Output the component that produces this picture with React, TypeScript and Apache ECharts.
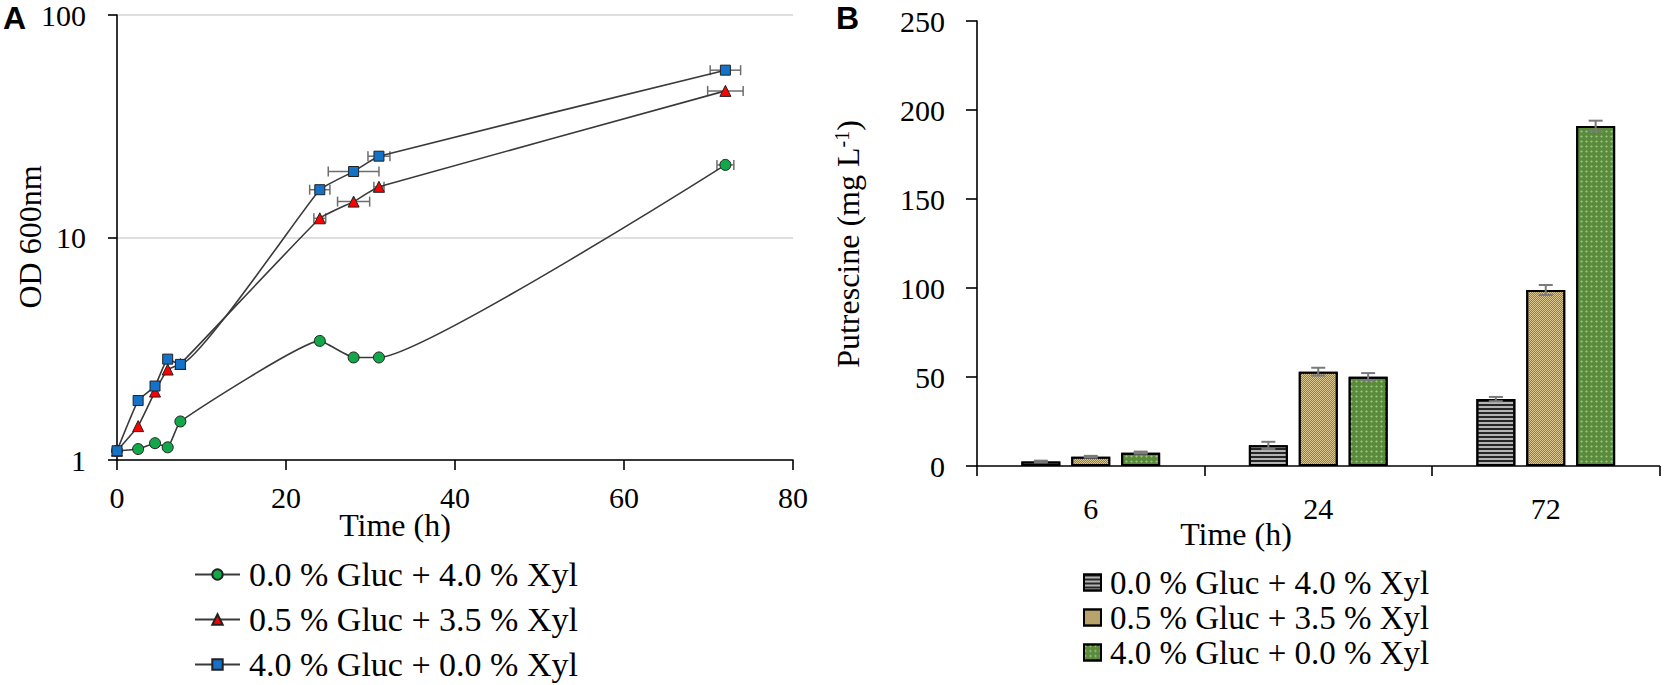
import React, { useEffect, useRef } from "react";
import * as echarts from "echarts";

const SERIF = '"Liberation Serif", "Times New Roman", serif';
const SANS = '"Liberation Sans", Arial, sans-serif';

const legendNames = [
  "0.0 % Gluc + 4.0 % Xyl",
  "0.5 % Gluc + 3.5 % Xyl",
  "4.0 % Gluc + 0.0 % Xyl",
];

// Panel A: OD600 vs time (log scale)
const timeA = [0, 2.5, 4.5, 6, 7.5, 24, 28, 31, 72];
const odGreen = [1.1, 1.12, 1.19, 1.14, 1.49, 3.43, 2.89, 2.89, 21.2];
const odRed = [1.1, 1.42, 2.03, 2.55, 2.7, 12.2, 14.5, 16.9, 45.6];
const odBlue = [1.1, 1.85, 2.15, 2.84, 2.69, 16.4, 19.8, 23.2, 56.5];
const errGreen = [0, 0, 0, 0, 0, 0, 0, 0, 1.0];
const errRed = [0, 0, 0, 0, 0, 0.7, 1.9, 0.6, 2.1];
const errBlue = [0, 0, 0, 0, 0, 1.2, 3.0, 1.3, 1.8];

// Panel B: putrescine
const catsB = ["6", "24", "72"];
const put0 = [2.5, 11.6, 37.6];
const put1 = [5.2, 53.0, 98.9];
const put2 = [7.5, 50.2, 191.0];
const putErr0 = [0.5, 2.0, 1.2];
const putErr1 = [0.5, 2.2, 2.8];
const putErr2 = [0.6, 2.0, 3.0];

const BAR_GAP = 0.28;
const CAT_GAP = 0.39;

function xErrSeries(vals: number[], errs: number[]) {
  return {
    type: "custom",
    z: 1,
    silent: true,
    encode: { x: 0, y: 1 },
    data: timeA.map((t, i) => [t, vals[i], errs[i]]),
    renderItem: (_p: any, api: any) => {
      const t = api.value(0);
      const v = api.value(1);
      const e = api.value(2);
      if (!e) return null;
      const a = api.coord([t - e, v]);
      const b = api.coord([t + e, v]);
      const h = 5;
      const style = { stroke: "#6e6e6e", lineWidth: 1.5 };
      return {
        type: "group",
        children: [
          { type: "line", shape: { x1: a[0], y1: a[1], x2: b[0], y2: b[1] }, style },
          { type: "line", shape: { x1: a[0], y1: a[1] - h, x2: a[0], y2: a[1] + h }, style },
          { type: "line", shape: { x1: b[0], y1: b[1] - h, x2: b[0], y2: b[1] + h }, style },
        ],
      };
    },
  };
}

function lineSeries(name: string, vals: number[], symbol: string, size: number, color: string) {
  return {
    type: "line",
    name,
    z: 3,
    data: timeA.map((t, i) => [t, vals[i]]),
    smooth: 0.12,
    symbol,
    symbolSize: size,
    showSymbol: true,
    color,
    itemStyle: { color, borderColor: "#222", borderWidth: 1 },
    lineStyle: { color: "#3a3a3a", width: 1.6 },
  };
}

function yErrSeries(k: number, vals: number[], errs: number[]) {
  return {
    type: "custom",
    z: 5,
    silent: true,
    encode: { x: 0, y: 1 },
    data: catsB.map((_c, i) => [i, vals[i], errs[i]]),
    renderItem: (_p: any, api: any) => {
      const ci = api.value(0);
      const v = api.value(1);
      const e = api.value(2);
      const band = api.size([1, 0])[0];
      const bw = (band * (1 - CAT_GAP)) / (3 + 2 * BAR_GAP);
      const off = (k - 1) * bw * (1 + BAR_GAP);
      const top = api.coord([ci, v + e]);
      const bot = api.coord([ci, Math.max(v - e, 0)]);
      const x = top[0] + off;
      const c = 7;
      const style = { stroke: "#7a7a7a", lineWidth: 2 };
      return {
        type: "group",
        children: [
          { type: "line", shape: { x1: x, y1: top[1], x2: x, y2: bot[1] }, style },
          { type: "line", shape: { x1: x - c, y1: top[1], x2: x + c, y2: top[1] }, style },
          { type: "line", shape: { x1: x - c, y1: bot[1], x2: x + c, y2: bot[1] }, style },
        ],
      };
    },
  };
}

const B_LEFT = 780;

export default function App() {
  const refA = useRef<HTMLDivElement>(null);
  const refB = useRef<HTMLDivElement>(null);

  useEffect(() => {
    const chartA = echarts.init(refA.current!, null, { renderer: "svg" });
    const chartB = echarts.init(refB.current!, null, { renderer: "svg" });

    const axisLabel = { color: "#000", fontFamily: SERIF, fontSize: 30 };

    chartA.setOption({
      animation: false,
      grid: { left: 117, top: 14, width: 676, height: 446 },
      xAxis: {
        type: "value",
        min: 0,
        max: 80,
        interval: 20,
        axisLine: { show: true, lineStyle: { color: "#000", width: 1.6 } },
        axisTick: { show: true, length: 10, lineStyle: { color: "#000", width: 1.6 } },
        axisLabel: { ...axisLabel, margin: 22 },
        splitLine: { show: false },
      },
      yAxis: {
        type: "log",
        logBase: 10,
        min: 1,
        max: 100,
        axisLine: { show: true, lineStyle: { color: "#000", width: 1.6 } },
        axisTick: { show: true, length: 9, lineStyle: { color: "#000", width: 1.6 } },
        axisLabel: { ...axisLabel, margin: 31 },
        splitLine: { show: true, lineStyle: { color: "#d4d4d4", width: 1.5 } },
        minorTick: { show: false },
      },
      legend: {
        orient: "vertical",
        left: 194,
        top: 557,
        padding: 0,
        itemWidth: 45,
        itemHeight: 13,
        itemGap: 10,
        data: legendNames,
        textStyle: { color: "#000", fontFamily: SERIF, fontSize: 34, lineHeight: 35, padding: [0, 0, 0, 4] },
      },
      graphic: [
        { type: "text", x: 3, y: 2, style: { text: "A", font: `bold 32px ${SANS}`, fill: "#000" } },
        {
          type: "text",
          x: 395,
          y: 525,
          style: { text: "Time (h)", font: `32px ${SERIF}`, fill: "#000", textAlign: "center", textVerticalAlign: "middle" },
        },
        {
          type: "text",
          x: 30,
          y: 237,
          rotation: Math.PI / 2,
          style: { text: "OD 600nm", font: `32px ${SERIF}`, fill: "#000", textAlign: "center", textVerticalAlign: "middle" },
        },
      ],
      series: [
        xErrSeries(odGreen, errGreen),
        xErrSeries(odRed, errRed),
        xErrSeries(odBlue, errBlue),
        lineSeries(legendNames[0], odGreen, "circle", 11, "#12a84a"),
        lineSeries(legendNames[1], odRed, "triangle", 11, "#ff0000"),
        lineSeries(legendNames[2], odBlue, "rect", 10, "#1473c8"),
      ],
    });

    const barBase = {
      type: "bar",
      barGap: `${BAR_GAP * 100}%`,
      barCategoryGap: `${CAT_GAP * 100}%`,
      z: 2,
    };

    chartB.setOption({
      animation: false,
      grid: { left: 977 - B_LEFT, top: 21, width: 682.5, height: 445 },
      xAxis: {
        type: "category",
        data: catsB,
        axisLine: { show: true, lineStyle: { color: "#000", width: 1.6 } },
        axisTick: { show: true, length: 10, lineStyle: { color: "#000", width: 1.6 } },
        axisLabel: { ...axisLabel, margin: 27 },
      },
      yAxis: {
        type: "value",
        min: 0,
        max: 250,
        interval: 50,
        axisLine: { show: true, lineStyle: { color: "#000", width: 1.6 } },
        axisTick: { show: true, length: 11, lineStyle: { color: "#000", width: 1.6 } },
        axisLabel: { ...axisLabel, margin: 32 },
        splitLine: { show: false },
      },
      legend: {
        orient: "vertical",
        left: 1083 - B_LEFT,
        top: 565,
        padding: 0,
        icon: "rect",
        itemWidth: 17,
        itemHeight: 16,
        itemGap: 0,
        data: legendNames,
        textStyle: { color: "#000", fontFamily: SERIF, fontSize: 33, lineHeight: 35, padding: [0, 0, 0, 4] },
      },
      graphic: [
        { type: "text", x: 836 - B_LEFT, y: 2, style: { text: "B", font: `bold 32px ${SANS}`, fill: "#000" } },
        {
          type: "text",
          x: 1236 - B_LEFT,
          y: 534,
          style: { text: "Time (h)", font: `32px ${SERIF}`, fill: "#000", textAlign: "center", textVerticalAlign: "middle" },
        },
        {
          type: "text",
          x: 848 - B_LEFT,
          y: 244,
          rotation: Math.PI / 2,
          style: {
            text: "Putrescine (mg L{sup|-1})",
            font: `32px ${SERIF}`,
            fill: "#000",
            textAlign: "center",
            textVerticalAlign: "middle",
            rich: { sup: { fontFamily: SERIF, fontSize: 20, fill: "#000", verticalAlign: "top", lineHeight: 32 } },
          },
        },
      ],
      series: [
        {
          ...barBase,
          name: legendNames[0],
          data: put0,
          itemStyle: {
            color: "#b4b4b4",
            borderColor: "#000",
            borderWidth: 2,
            decal: { symbol: "rect", symbolSize: 1, dashArrayX: [1, 0], dashArrayY: [1.5, 1.5], color: "#262626", rotation: 0 },
          },
        },
        {
          ...barBase,
          name: legendNames[1],
          data: put1,
          itemStyle: {
            color: "#dcc690",
            borderColor: "#000",
            borderWidth: 2,
            decal: { symbol: "rect", symbolSize: 1, dashArrayX: [[1, 1], [0, 1, 1, 0]], dashArrayY: [1, 0], color: "#957e48", rotation: 0 },
          },
        },
        {
          ...barBase,
          name: legendNames[2],
          data: put2,
          itemStyle: {
            color: "#5a8a3c",
            borderColor: "#000",
            borderWidth: 2,
            decal: { symbol: "diamond", symbolSize: 0.9, dashArrayX: [3, 2], dashArrayY: [3, 2], color: "#9cc47f", rotation: 0 },
          },
        },
        yErrSeries(0, put0, putErr0),
        yErrSeries(1, put1, putErr1),
        yErrSeries(2, put2, putErr2),
      ],
    });

    return () => {
      chartA.dispose();
      chartB.dispose();
    };
  }, []);

  return (
    <div style={{ position: "fixed", left: 0, top: 0, width: 1664, height: 685, background: "#fff" }}>
      <div ref={refA} style={{ position: "absolute", left: 0, top: 0, width: 840, height: 685 }} />
      <div ref={refB} style={{ position: "absolute", left: B_LEFT, top: 0, width: 1664 - B_LEFT, height: 685 }} />
    </div>
  );
}
